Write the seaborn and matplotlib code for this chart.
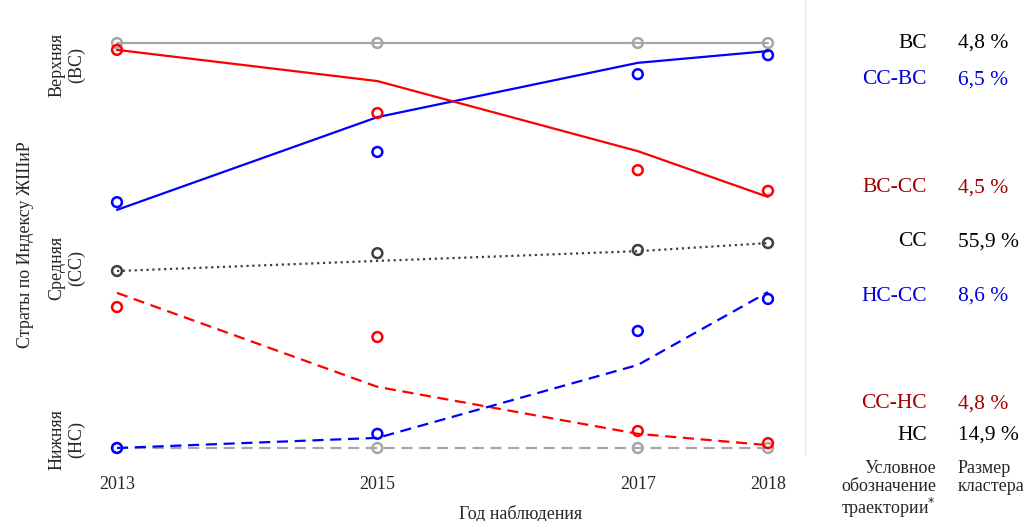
import seaborn as sns
import matplotlib.pyplot as plt
import matplotlib.transforms as mtrans
import pandas as pd
from matplotlib.lines import Line2D

# Data (stratum index, 0 = НС, 100 = ВС)
years = [2013, 2015, 2017, 2018]
trajectories = ['ВС', 'СС-ВС', 'ВС-СС', 'СС', 'НС-СС', 'СС-НС', 'НС']
observed = {
    'ВС':    [100, 100, 100, 100],
    'СС-ВС': [60.7, 73.1, 92.3, 97.0],
    'ВС-СС': [98.3, 82.7, 68.6, 63.5],
    'СС':    [43.7, 48.1, 48.9, 50.6],
    'НС-СС': [0, 3.5, 28.9, 36.8],
    'СС-НС': [34.8, 27.4, 4.2, 1.2],
    'НС':    [0, 0, 0, 0],
}
fitted = {
    'ВС':    [100, 100, 100, 100],
    'СС-ВС': [58.8, 81.7, 95.1, 98.0],
    'ВС-СС': [98.3, 90.6, 73.3, 62.0],
    'СС':    [43.7, 46.2, 48.6, 50.6],
    'НС-СС': [0, 2.5, 20.5, 38.5],
    'СС-НС': [38.3, 15.1, 3.5, 0.7],
    'НС':    [0, 0, 0, 0],
}
cluster_size = ['4,8 %', '6,5 %', '4,5 %', '55,9 %', '8,6 %', '4,8 %', '14,9 %']
strata_labels = ['Верхняя\n(ВС)', 'Средняя\n(СС)', 'Нижняя\n(НС)']

# styles
line_colors = {'ВС': '#a6a6a6', 'СС-ВС': '#0000ff', 'ВС-СС': '#ff0000', 'СС': '#404040',
               'НС-СС': '#0000ff', 'СС-НС': '#ff0000', 'НС': '#a6a6a6'}
line_styles = {'ВС': '-', 'СС-ВС': '-', 'ВС-СС': '-', 'СС': ':',
               'НС-СС': (0, (5, 3)), 'СС-НС': (0, (5, 3)), 'НС': (0, (5, 3))}
text_colors = ['black', '#0000dd', '#a00000', 'black', '#0000dd', '#a00000', 'black']
label_y = [100, 90.9, 64.2, 50.9, 37.5, 10.9, 3.2]
strata_y = [94.6, 44.4, 2.0]
draw_order = ['ВС', 'НС', 'СС', 'СС-ВС', 'ВС-СС', 'СС-НС', 'НС-СС']

sns.set_style('white')
plt.rcParams['font.family'] = ['Liberation Serif', 'DejaVu Serif']

fig = plt.figure(figsize=(10.24, 5.21), dpi=100)
ax = fig.add_axes([100 / 1024, 56 / 521, 690 / 1024, 440 / 521])

rows_obs = []
rows_fit = []
for t in trajectories:
    for yr, o, f in zip(years, observed[t], fitted[t]):
        rows_obs.append({'year': yr, 'value': o, 'traj': t})
        rows_fit.append({'year': yr, 'value': f, 'traj': t})
df_obs = pd.DataFrame(rows_obs)
df_fit = pd.DataFrame(rows_fit)

for i, t in enumerate(draw_order):
    sns.lineplot(data=df_fit[df_fit.traj == t], x='year', y='value', ax=ax,
                 color=line_colors[t], linewidth=1.6, linestyle=line_styles[t],
                 legend=False, zorder=2 + i)
    sns.scatterplot(data=df_obs[df_obs.traj == t], x='year', y='value', ax=ax,
                    facecolor='none', edgecolor=line_colors[t], linewidth=1.8, s=50,
                    marker='o', legend=False, zorder=10 + i)

ax.set_xlim(2013 - 17 / 130.2, 2018 + 22 / 130.2)
ax.set_ylim(-17 / 4.05, 100 + 18 / 4.05)
ax.set_xticks(years)
ax.set_xticklabels([str(y) for y in years], fontsize=13)
ax.set_yticks(strata_y)
ax.set_yticklabels(strata_labels, rotation=90, va='center', ha='center', fontsize=13,
                   linespacing=1.2)
ax.tick_params(axis='y', length=0, pad=24)
ax.tick_params(axis='x', length=0, pad=8)
for s in ax.spines.values():
    s.set_visible(False)
ax.set_xlabel('')
ax.set_ylabel('Страты по Индексу ЖШиР', fontsize=13, labelpad=10)
fig.text(521 / 1024, 1 - 514 / 521, 'Год наблюдения', ha='center', va='center', fontsize=13)

# right-hand table
bt = mtrans.blended_transform_factory(fig.transFigure, ax.transData)
for lab, pct, ly, c in zip(trajectories, cluster_size, label_y, text_colors):
    ax.text(927 / 1024, ly, lab, transform=bt, ha='right', va='center', fontsize=15.5,
            color=c, clip_on=False)
    ax.text(958 / 1024, ly, pct, transform=bt, ha='left', va='center', fontsize=15.5,
            color=c, clip_on=False)

fig.text(936 / 1024, 1 - 460 / 521, 'Условное\nобозначение\nтраектории$^{*}$', ha='right',
         va='top', fontsize=13, linespacing=1.05)
fig.text(958 / 1024, 1 - 460 / 521, 'Размер\nкластера', ha='left', va='top',
         fontsize=13, linespacing=1.05)

fig.add_artist(Line2D([805 / 1024, 805 / 1024], [1 - 455 / 521, 1.0],
                      transform=fig.transFigure, color='#ebebeb', linewidth=1))

fig.savefig('out.png', dpi=100)
